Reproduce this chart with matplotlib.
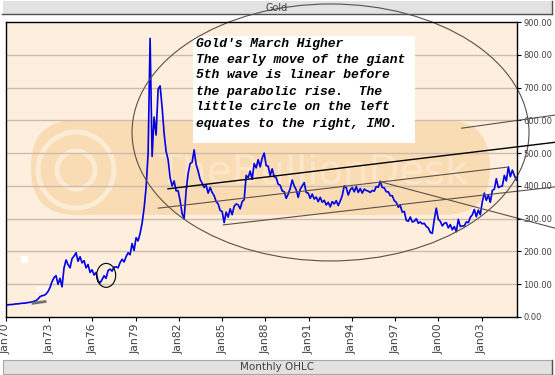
import numpy as np
import matplotlib
matplotlib.use("Agg")
import matplotlib.pyplot as plt
from matplotlib.patches import Ellipse, Rectangle, FancyBboxPatch, Circle
from matplotlib.transforms import Affine2D
from matplotlib.lines import Line2D

# ---------------- data ----------------
start_year = 1970.0
step_years = 5 / 36          # one reading every 5/3 months

prices_1970_73 = [37, 37, 38, 38, 39, 40, 40, 41, 42, 42, 43, 44, 45, 46, 48, 50, 55, 62]
prices_1973_76 = [65, 66, 70, 78, 90, 108, 120, 126, 100, 118, 92, 150, 174, 160, 150,
                  178, 186, 196, 170, 184, 165, 172, 150, 160, 136, 144, 128, 136, 110, 104]
prices_1976_80 = [114, 126, 118, 142, 146, 140, 152, 153, 150, 166, 176, 168, 184, 196,
                  190, 224, 203, 242, 232, 255, 286, 332, 395]
prices_1980_84 = [500, 850, 490, 610, 555, 695, 705, 640, 560, 505, 480, 425, 400, 415,
                  385, 385, 355, 315, 300, 385, 438, 468, 472, 510, 465, 445, 420]
prices_1984_89 = [408, 395, 402, 378, 395, 380, 370, 352, 345, 325, 322, 288, 320, 305,
                  330, 312, 338, 345, 342, 330, 352, 358, 432, 425, 445, 420, 468, 455,
                  480, 458, 485, 500, 462, 460, 432]
prices_1989_95 = [452, 428, 425, 405, 402, 385, 382, 362, 375, 392, 418, 400, 388, 365,
                  390, 400, 410, 380, 378, 362, 375, 360, 366, 352, 365, 350, 356, 342,
                  350, 336, 352, 345, 355, 340, 354, 370, 400, 395, 372, 388]
prices_1995_00 = [395, 382, 398, 380, 392, 378, 390, 386, 384, 380, 386, 384, 398, 396,
                  414, 395, 394, 382, 382, 370, 370, 355, 350, 335, 340, 320, 322, 295,
                  292, 305, 290, 292, 300, 286, 290, 284, 286, 276, 272, 258]
prices_2000_05 = [255, 298, 332, 298, 292, 278, 286, 288, 272, 282, 266, 276, 260, 298,
                  276, 278, 278, 290, 288, 304, 312, 328, 306, 326, 312, 352, 378, 356,
                  372, 350, 386, 390, 422, 395, 398, 400, 432, 415, 458, 428, 448, 432, 418]

prices = np.array(prices_1970_73 + prices_1973_76 + prices_1976_80 + prices_1980_84 +
                  prices_1984_89 + prices_1989_95 + prices_1995_00 + prices_2000_05, float)
dates = start_year + np.arange(len(prices)) * step_years

tick_years = [1970, 1973, 1976, 1979, 1982, 1985, 1988, 1991, 1994, 1997, 2000, 2003]
tick_labels = ["Jan70", "Jan73", "Jan76", "Jan79", "Jan82", "Jan85", "Jan88",
               "Jan91", "Jan94", "Jan97", "Jan00", "Jan03"]
y_ticks = [0, 100, 200, 300, 400, 500, 600, 700, 800, 900]

# annotation drawings (year, price)
big_ellipse_center = (1992.52, 563)
big_ellipse_size = (27.55, 784)
small_circle_center = (1976.95, 127)
small_circle_size = (1.32, 73)
channel_top_x, channel_top_y = [1981.24, 2008.10], [391, 533]
channel_mid_x, channel_mid_y = [1980.57, 2004.75], [332, 457]
channel_low_x, channel_low_y = [1985.08, 2008.10], [281, 397]
short_upper_x, short_upper_y = [2001.62, 2008.10], [576, 616]
descending_x, descending_y = [1995.95, 2008.10], [413, 271]
early_dash_x, early_dash_y = [1971.87, 1972.71], [42, 47]

note_lines = ["Gold's March Higher",
              "The early move of the giant",
              "5th wave is linear before",
              "the parabolic rise.  The",
              "little circle on the left",
              "equates to the right, IMO."]

# ---------------- figure ----------------
W, H = 555, 375
fig = plt.figure(figsize=(W / 100, H / 100), dpi=100)
fig.patch.set_facecolor("white")
PX = Affine2D().scale(0.01, -0.01).translate(0, H / 100) + fig.dpi_scale_trans

# header / footer bars
fig.patches.append(Rectangle((3, 1), 549, 13, transform=PX, facecolor="#e2e2e2",
                             edgecolor="none", zorder=-2))
fig.lines.append(Line2D([2, 552], [14, 14], transform=PX, color="#505050", lw=1, zorder=-1))
fig.lines.append(Line2D([552, 552], [1, 14], transform=PX, color="#505050", lw=1, zorder=-1))
fig.patches.append(Rectangle((3, 360), 549, 14, transform=PX, facecolor="#e2e2e2",
                             edgecolor="#a8a8a8", lw=0.8, zorder=-2))
fig.lines.append(Line2D([552, 552], [360, 374], transform=PX, color="#505050", lw=1, zorder=-1))
fig.text(277 / W, 1 - 8 / H, "Gold", ha="center", va="center", fontsize=7, color="#404040")
fig.text(277 / W, 1 - 367.5 / H, "Monthly OHLC", ha="center", va="center",
         fontsize=7.5, color="#404040")

L, R, T, B = 5.5, 517, 22, 317
ax = fig.add_axes([L / W, 1 - B / H, (R - L) / W, (B - T) / H])
ax.set_facecolor("#fdeedd")
x0 = 1970 + (L - 6) / 14.41
x1 = 1970 + (R - 6) / 14.41
ax.set_xlim(x0, x1)
ax.set_ylim(0, 900)

# watermark (decoration)
ax.add_patch(FancyBboxPatch((31, 120), 459, 95, boxstyle="round,pad=0,rounding_size=46",
                            transform=PX, facecolor="#fadcb4", edgecolor="none", zorder=0.2))
for r in (38, 19):
    ax.add_patch(Circle((76, 170), r, transform=PX, fill=False, edgecolor="white",
                        lw=3.5, alpha=0.45, zorder=0.3))
ax.text(157, 183, "TheBullionDesk", transform=PX, fontsize=29, color="white",
        alpha=0.3, ha="left", va="baseline", zorder=0.3)
ax.add_patch(Rectangle((21, 256), 7, 7, transform=PX, facecolor="white",
                       edgecolor="none", zorder=0.4))
ax.add_patch(Rectangle((36, 286), 13, 6, transform=PX, facecolor="#fff8f0",
                       edgecolor="none", zorder=0.4))

for v in y_ticks[1:-1]:
    ax.axhline(v, color="#cdbcaa", lw=1, zorder=1)

# text box
ax.add_patch(Rectangle((193, 36), 222, 107, transform=PX, facecolor="white",
                       edgecolor="none", zorder=2))
for i, line in enumerate(note_lines):
    ax.text(196, 43.5 + 16 * i, line, transform=PX, fontsize=9.4,
            family="Liberation Mono", weight="bold", style="italic",
            color="black", ha="left", va="center", zorder=2.5)

# price series
ax.plot(dates, prices, color="#0000e6", lw=1.2, zorder=3)

# drawings
ann = dict(color="#5e5046", lw=0.8, zorder=4, clip_on=False)
ax.add_patch(Ellipse(big_ellipse_center, *big_ellipse_size, fill=False,
                     edgecolor="#5a5048", lw=0.8, zorder=4, clip_on=False))
ax.add_patch(Ellipse(small_circle_center, *small_circle_size, fill=False,
                     edgecolor="black", lw=0.8, zorder=4))
ax.plot(channel_top_x, channel_top_y, color="black", lw=1.0, zorder=4, clip_on=False)
ax.plot(channel_mid_x, channel_mid_y, **ann)
ax.plot(channel_low_x, channel_low_y, **ann)
ax.plot(short_upper_x, short_upper_y, **ann)
ax.plot(descending_x, descending_y, **ann)
ax.plot(early_dash_x, early_dash_y, color="#707070", lw=2, zorder=4)

# axes styling
for s in ax.spines.values():
    s.set_color("black")
    s.set_linewidth(1)
    s.set_zorder(5)
ax.set_xticks(tick_years)
ax.set_xticklabels(tick_labels)
ax.tick_params(axis="x", direction="out", length=3, width=0.8, pad=1.5,
               labelsize=7.8, labelrotation=90, labelcolor="#404040")
ax.yaxis.tick_right()
ax.set_yticks(y_ticks)
ax.set_yticklabels([f"{v:.2f}" for v in y_ticks])
ax.tick_params(axis="y", direction="out", length=3, width=0.8, pad=1.5,
               labelsize=6, labelcolor="#404040")

fig.savefig("out.png", dpi=100)
